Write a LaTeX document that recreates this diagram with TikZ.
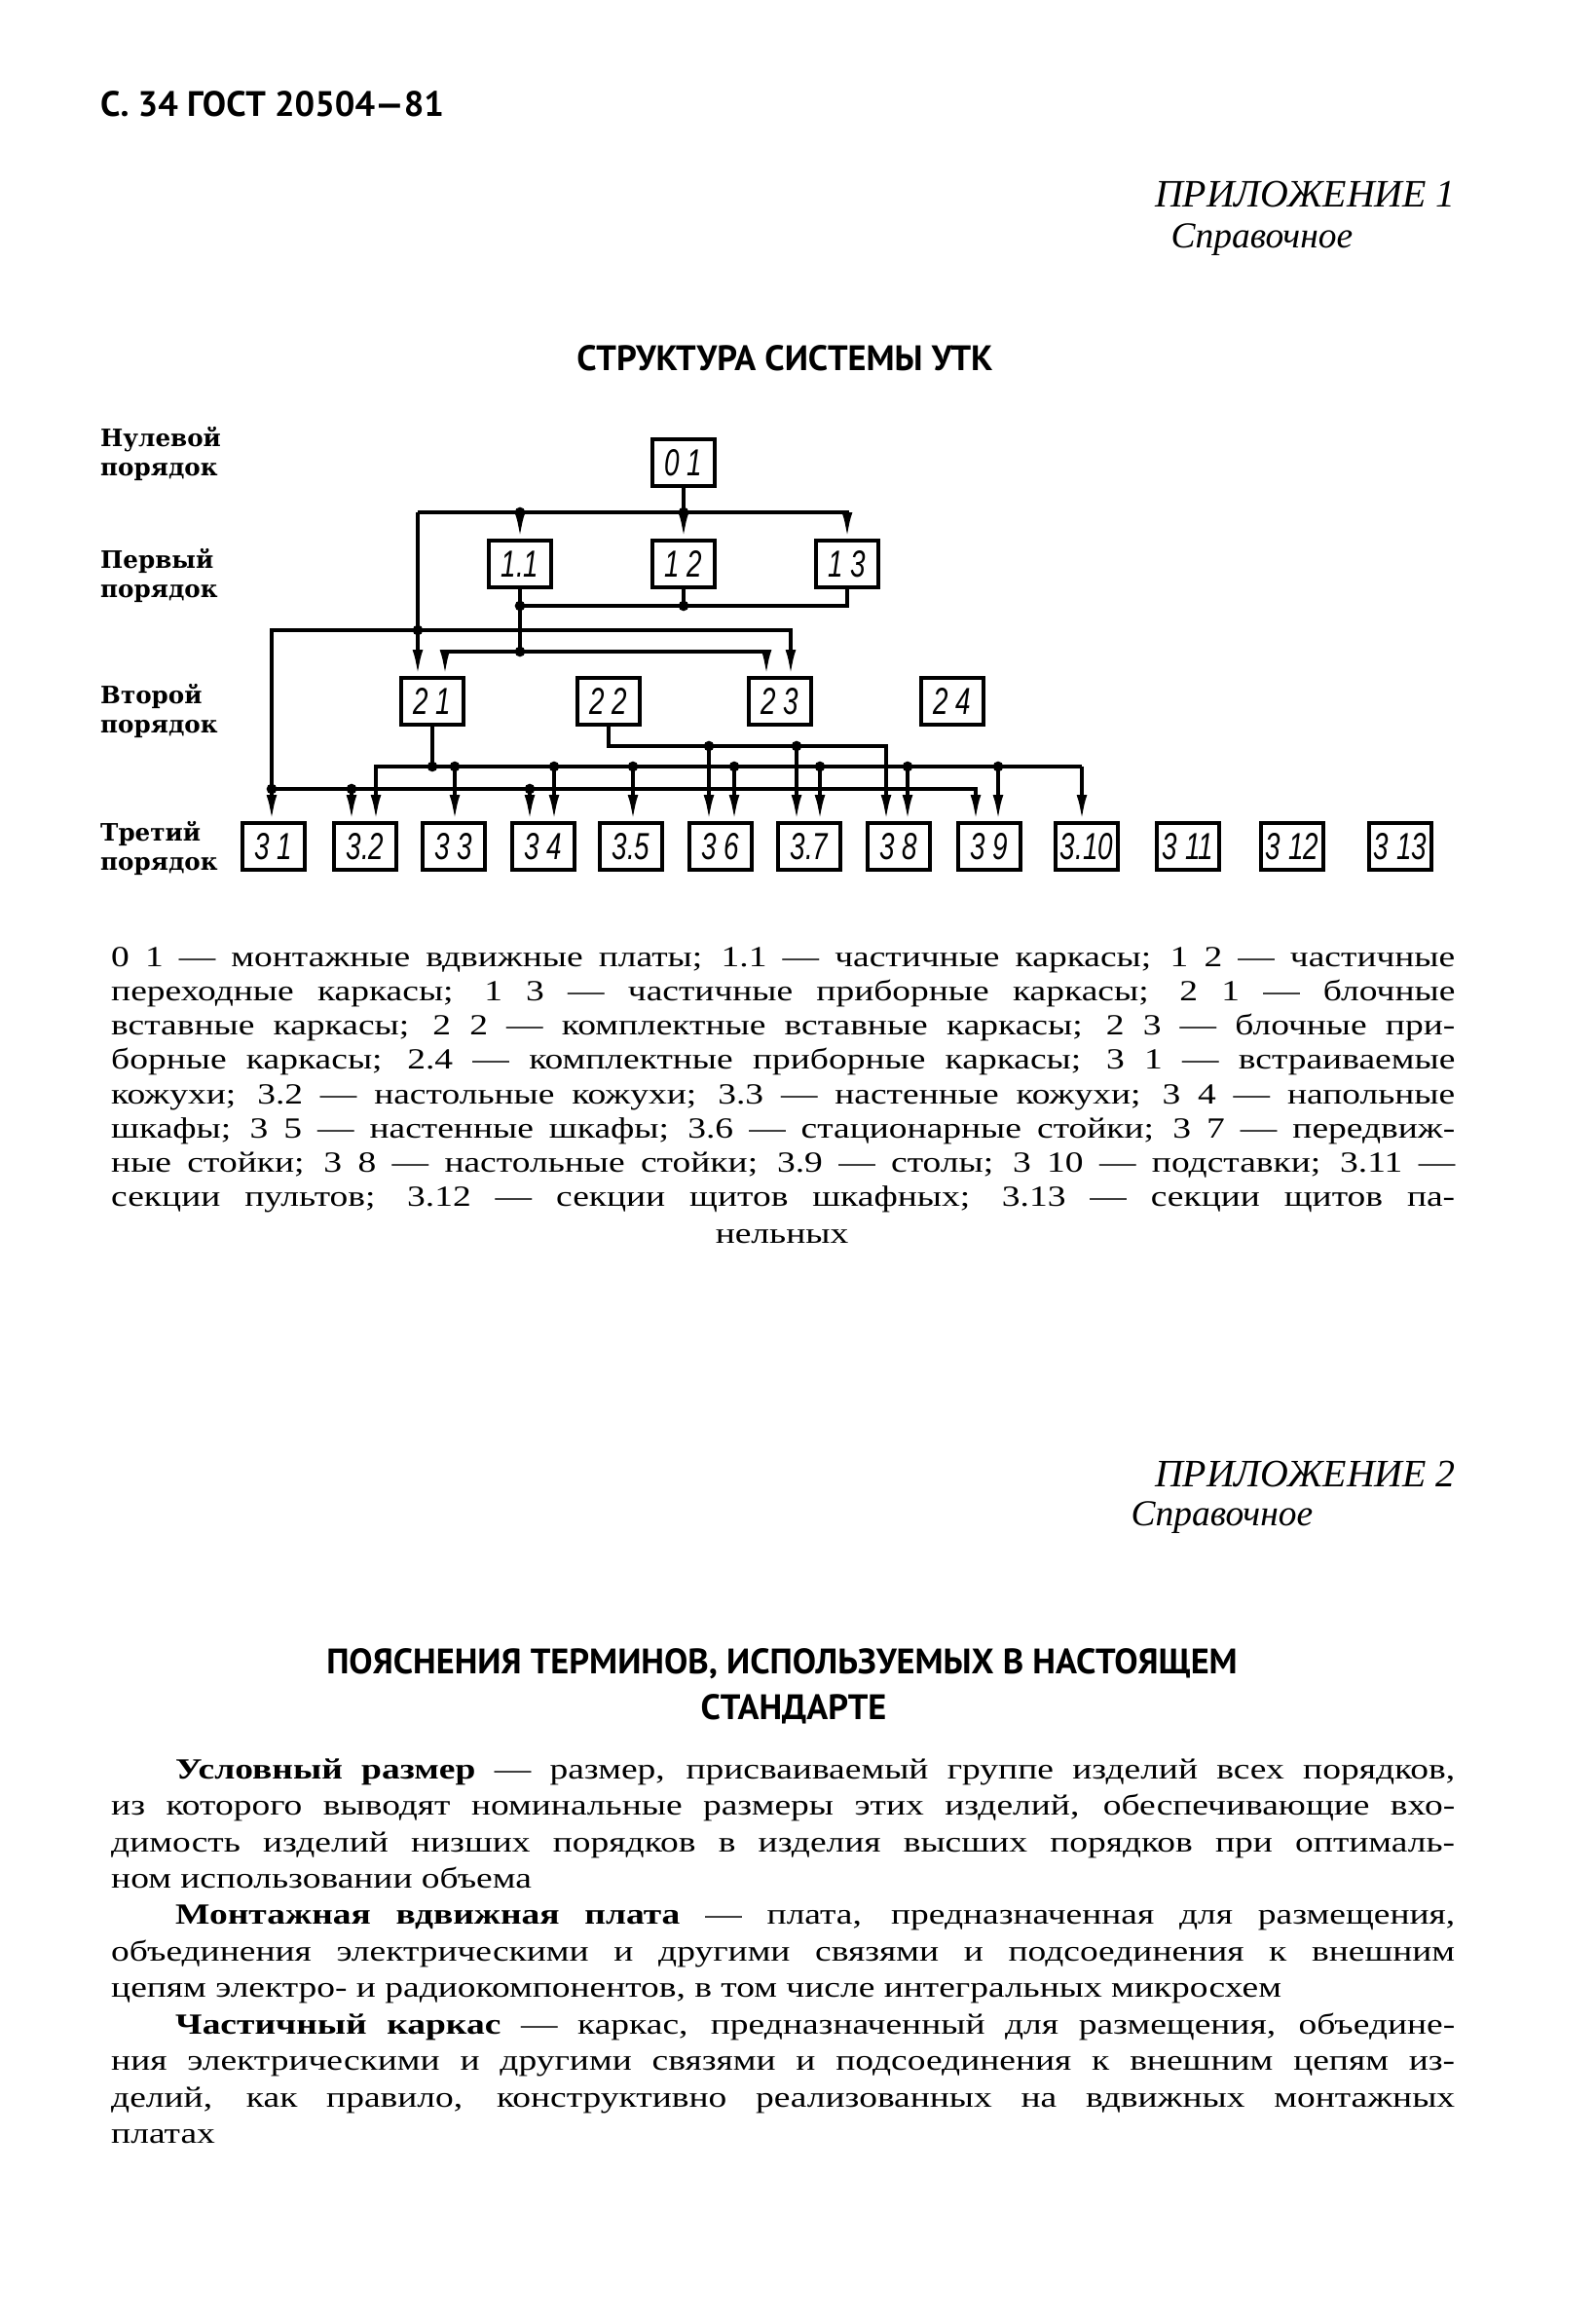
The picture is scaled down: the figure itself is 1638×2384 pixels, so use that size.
\documentclass[tikz,border=0pt]{standalone}
\usepackage{fontspec}
\setmainfont[FakeStretch=1.25]{Liberation Serif}
\newfontfamily\headfont{PT Sans}
\newfontfamily\levelfont{DejaVu Serif}
\newfontfamily\numfont[FakeStretch=0.72]{Liberation Sans}
\newfontfamily\itfont{Liberation Serif}
\usetikzlibrary{arrows.meta}

\begin{document}
\begin{tikzpicture}[x=0.3mm, y=-0.3mm,
  box/.style={rectangle, draw, line width=1.2mm, minimum width=19mm, minimum height=14.5mm, inner sep=0pt, font=\numfont\itshape\fontsize{33pt}{33pt}\selectfont},
  level/.style={align=left, anchor=west, inner sep=0pt, font=\levelfont\bfseries\fontsize{21pt}{24.8pt}\selectfont},
  head/.style={inner sep=0pt, font=\headfont\bfseries\fontsize{31pt}{33pt}\selectfont},
  appx/.style={anchor=east, inner sep=0pt, font=\itfont\itshape\fontsize{34pt}{36pt}\selectfont},
  refn/.style={inner sep=0pt, font=\itfont\itshape\fontsize{32pt}{34pt}\selectfont},
  body/.style={anchor=base west, inner sep=0pt, text width=414mm, align=justify},
  line/.style={draw, line width=1.1mm},
  arr/.style={line, -{Latex[length=8mm,width=3.2mm]}}]

  \fill[white] (0,0) rectangle (1638,2384);
  \useasboundingbox (0,0) rectangle (1638,2384);

  % Page texts
  \node [head, anchor=west] (page) at (103,107) {С. 34 ГОСТ 20504—81};
  \node [appx] (app1) at (1495,200) {ПРИЛОЖЕНИЕ 1};
  \node [refn] (ref1) at (1296,246) {Справочное};
  \node [head] (title1) at (806,368) {СТРУКТУРА СИСТЕМЫ УТК};

  \node [level] (lvl0) at (103,466) {Нулевой\\порядок};
  \node [level] (lvl1) at (103,591) {Первый\\порядок};
  \node [level] (lvl2) at (103,730) {Второй\\порядок};
  \node [level] (lvl3) at (103,871) {Третий\\порядок};

  % Nodes
  \node [box] (n01) at (702,475) {0 1};
  \node [box] (n11) at (534,579) {1.1};
  \node [box] (n12) at (702,579) {1 2};
  \node [box] (n13) at (870,579) {1 3};
  \node [box] (n21) at (444,720) {2 1};
  \node [box] (n22) at (625,720) {2 2};
  \node [box] (n23) at (801,720) {2 3};
  \node [box] (n24) at (978,720) {2 4};
  \node [box] (n31) at (281,869) {3 1};
  \node [box] (n32) at (375,869) {3.2};
  \node [box] (n33) at (466,869) {3 3};
  \node [box] (n34) at (558,869) {3 4};
  \node [box] (n35) at (648,869) {3.5};
  \node [box] (n36) at (740,869) {3 6};
  \node [box] (n37) at (831,869) {3.7};
  \node [box] (n38) at (923,869) {3 8};
  \node [box] (n39) at (1016,869) {3 9};
  \node [box] (n310) at (1116,869) {3.10};
  \node [box] (n311) at (1220,869) {3 11};
  \node [box] (n312) at (1327,869) {3 12};
  \node [box] (n313) at (1438,869) {3 13};

  % Junctions
  \coordinate (b0L) at (429,526);
  \coordinate (j1) at (534,622);
  \coordinate (j2) at (534,669);
  \coordinate (c21) at (457,669);
  \coordinate (c23) at (787,669);
  \coordinate (aR) at (812,647);
  \coordinate (bAL) at (279,810);
  \coordinate (bAR) at (1002,810);
  \coordinate (bBL) at (386,787);
  \coordinate (bBR) at (1111,787);
  \coordinate (k38) at (910,766);
  \coordinate (a32) at (361,810);
  \coordinate (a34) at (544,810);
  \coordinate (b33) at (467,787);
  \coordinate (b34) at (569,787);
  \coordinate (b35) at (650,787);
  \coordinate (b36) at (754,787);
  \coordinate (b37) at (842,787);
  \coordinate (b38) at (932,787);
  \coordinate (b39) at (1025,787);
  \coordinate (k36) at (728,766);
  \coordinate (k37) at (818,766);

  % Edges
  \path [arr] (n01) -- (n12);
  \path [arr] (b0L) -| (n13);
  \path [arr] (n11 |- b0L) -- (n11);
  \path [arr] (b0L) -- (b0L |- n21.north);
  \path [line] (n11) -- (j2);
  \path [line] (n13) |- (j1);
  \path [line] (n12) -- (n12 |- j1);
  \path [arr] (c23) -- (c21) -- (c21 |- n21.north);
  \path [arr] (c23) -- (c23 |- n23.north);
  \path [arr] (bAL) |- (aR) -- (aR |- n23.north);

  \path [arr] (bAL) -- (bAL |- n31.north);
  \path [arr] (bAL) -- (bAR) -- (bAR |- n39.north);
  \path [arr] (a32) -- (a32 |- n32.north);
  \path [arr] (a34) -- (a34 |- n34.north);

  \path [line] (n21) -- (n21 |- bBL);
  \path [arr] (bBR) -- (bBL) -- (bBL |- n32.north);
  \path [arr] (bBR) -- (bBR |- n310.north);
  \path [arr] (b33) -- (b33 |- n33.north);
  \path [arr] (b34) -- (b34 |- n34.north);
  \path [arr] (b35) -- (b35 |- n35.north);
  \path [arr] (b36) -- (b36 |- n36.north);
  \path [arr] (b37) -- (b37 |- n37.north);
  \path [arr] (b38) -- (b38 |- n38.north);
  \path [arr] (b39) -- (b39 |- n39.north);

  \path [arr] (n22) |- (k38) -- (k38 |- n38.north);
  \path [arr] (k36) -- (k36 |- n36.north);
  \path [arr] (k37) -- (k37 |- n37.north);

  % Dots
  \fill (n11 |- b0L) circle (1.6mm);
  \fill (n01 |- b0L) circle (1.6mm);
  \fill (j1) circle (1.6mm);
  \fill (n12 |- j1) circle (1.6mm);
  \fill (j2) circle (1.6mm);
  \fill (b0L |- aR) circle (1.6mm);
  \fill (bAL) circle (1.6mm);
  \fill (a32) circle (1.6mm);
  \fill (a34) circle (1.6mm);
  \fill (n21 |- bBL) circle (1.6mm);
  \fill (b33) circle (1.6mm);
  \fill (b34) circle (1.6mm);
  \fill (b35) circle (1.6mm);
  \fill (b36) circle (1.6mm);
  \fill (b37) circle (1.6mm);
  \fill (b38) circle (1.6mm);
  \fill (b39) circle (1.6mm);
  \fill (k36) circle (1.6mm);
  \fill (k37) circle (1.6mm);

  % Legend
  \node [body, font=\fontsize{25.6pt}{30.1pt}\selectfont] (legend) at (114,992) {\tolerance=10000\hbadness=10000\parfillskip=0pt
0 1 — монтажные вдвижные платы; 1.1 — частичные каркасы; 1 2 — частичные\linebreak
переходные каркасы; 1 3 — частичные приборные каркасы; 2 1 — блочные\linebreak
вставные каркасы; 2 2 — комплектные вставные каркасы; 2 3 — блочные при-\linebreak
борные каркасы; 2.4 — комплектные приборные каркасы; 3 1 — встраиваемые\linebreak
кожухи; 3.2 — настольные кожухи; 3.3 — настенные кожухи; 3 4 — напольные\linebreak
шкафы; 3 5 — настенные шкафы; 3.6 — стационарные стойки; 3 7 — передвиж-\linebreak
ные стойки; 3 8 — настольные стойки; 3.9 — столы; 3 10 — подставки; 3.11 —\linebreak
секции пультов; 3.12 — секции щитов шкафных; 3.13 — секции щитов па-\par};
  \node [inner sep=0pt, font=\fontsize{25.6pt}{30.1pt}\selectfont] (legendend) at (803,1270) {нельных};

  % Appendix 2
  \node [appx] (app2) at (1495,1513) {ПРИЛОЖЕНИЕ 2};
  \node [refn] (ref2) at (1255,1558) {Справочное};
  \node [head] (title2) at (803,1708) {ПОЯСНЕНИЯ ТЕРМИНОВ, ИСПОЛЬЗУЕМЫХ В НАСТОЯЩЕМ};
  \node [head] (title2b) at (815,1755) {СТАНДАРТЕ};

  \node [body, font=\fontsize{25.6pt}{32pt}\selectfont] (terms) at (114,1826) {\tolerance=10000\hbadness=10000\parskip=0pt\parindent=19.8mm\indent
\textbf{Условный размер} — размер, присваиваемый группе изделий всех порядков,\linebreak
из которого выводят номинальные размеры этих изделий, обеспечивающие вхо-\linebreak
димость изделий низших порядков в изделия высших порядков при оптималь-\linebreak
ном использовании объема\par
\textbf{Монтажная вдвижная плата} — плата, предназначенная для размещения,\linebreak
объединения электрическими и другими связями и подсоединения к внешним\linebreak
цепям электро- и радиокомпонентов, в том числе интегральных микросхем\par
\textbf{Частичный каркас} — каркас, предназначенный для размещения, объедине-\linebreak
ния электрическими и другими связями и подсоединения к внешним цепям из-\linebreak
делий, как правило, конструктивно реализованных на вдвижных монтажных\linebreak
платах\par};

\end{tikzpicture}
\end{document}
